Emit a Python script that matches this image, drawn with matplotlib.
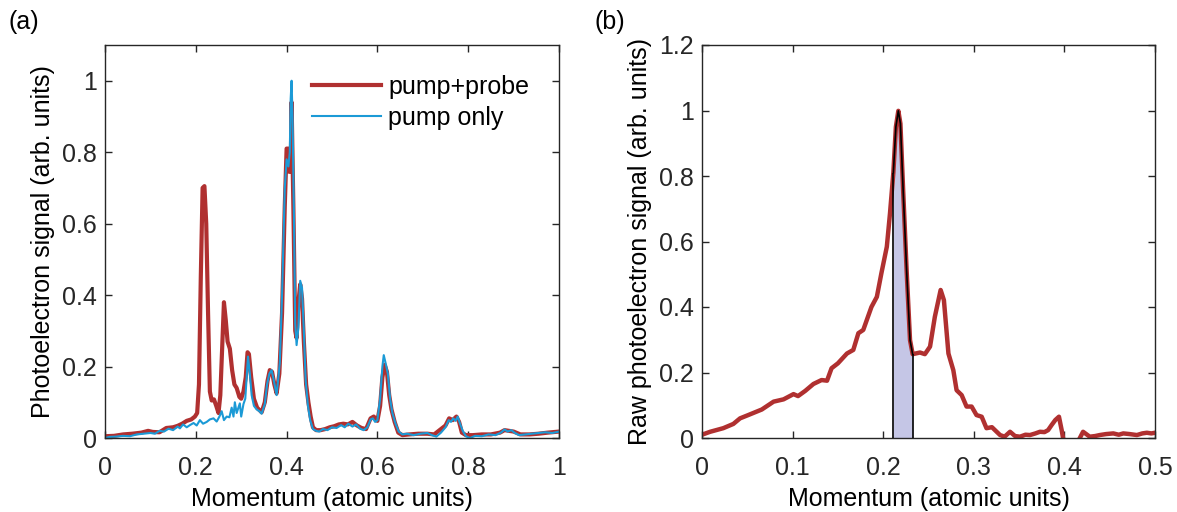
import numpy as np
import matplotlib
matplotlib.use("Agg")
import matplotlib.pyplot as plt
from matplotlib.ticker import FuncFormatter

# ---------------- data: panel (a) ----------------
pp_x = [0.000, 0.020, 0.040, 0.060, 0.080, 0.095, 0.105, 0.120, 0.135, 0.150,
        0.160, 0.170, 0.180, 0.190, 0.198, 0.203, 0.207, 0.211, 0.215, 0.219,
        0.223, 0.227, 0.231, 0.235, 0.240, 0.245, 0.250, 0.254, 0.258, 0.262,
        0.266, 0.270, 0.275, 0.280, 0.285, 0.290, 0.296, 0.300, 0.305, 0.310,
        0.314, 0.317, 0.322, 0.328, 0.335, 0.345, 0.352, 0.358, 0.363, 0.368,
        0.373, 0.378, 0.384, 0.390, 0.396, 0.400, 0.404, 0.406, 0.409, 0.411,
        0.415, 0.419, 0.422, 0.426, 0.430, 0.434, 0.438, 0.443, 0.448, 0.453,
        0.458, 0.465, 0.475, 0.485, 0.495, 0.505, 0.515, 0.525, 0.535, 0.545,
        0.555, 0.565, 0.575, 0.585, 0.592, 0.600, 0.606, 0.611, 0.616, 0.621,
        0.626, 0.631, 0.638, 0.646, 0.655, 0.670, 0.690, 0.710, 0.725, 0.740,
        0.750, 0.758, 0.766, 0.774, 0.780, 0.786, 0.795, 0.810, 0.830, 0.850,
        0.870, 0.880, 0.890, 0.900, 0.915, 0.935, 0.955, 0.975, 1.000]
pp_y = [0.005, 0.006, 0.010, 0.012, 0.015, 0.020, 0.017, 0.016, 0.028, 0.030,
        0.034, 0.040, 0.048, 0.052, 0.060, 0.070, 0.150, 0.450, 0.700, 0.705,
        0.600, 0.350, 0.130, 0.105, 0.108, 0.090, 0.070, 0.120, 0.250, 0.380,
        0.330, 0.270, 0.250, 0.190, 0.150, 0.140, 0.115, 0.110, 0.130, 0.170,
        0.240, 0.235, 0.170, 0.110, 0.085, 0.072, 0.100, 0.160, 0.190, 0.185,
        0.150, 0.125, 0.180, 0.350, 0.650, 0.810, 0.810, 0.745, 0.745, 0.940,
        0.640, 0.300, 0.280, 0.380, 0.430, 0.390, 0.270, 0.150, 0.100, 0.060,
        0.030, 0.022, 0.022, 0.025, 0.030, 0.033, 0.038, 0.040, 0.038, 0.045,
        0.035, 0.028, 0.025, 0.055, 0.060, 0.048, 0.090, 0.170, 0.205, 0.185,
        0.120, 0.080, 0.045, 0.015, 0.008, 0.010, 0.012, 0.012, 0.010, 0.025,
        0.035, 0.055, 0.050, 0.060, 0.045, 0.015, 0.008, 0.008, 0.010, 0.010,
        0.015, 0.022, 0.020, 0.018, 0.010, 0.010, 0.012, 0.015, 0.018]

po_x = [0.000, 0.010, 0.025, 0.040, 0.055, 0.070, 0.085, 0.100, 0.110, 0.120,
        0.130, 0.140, 0.150, 0.160, 0.165, 0.172, 0.180, 0.187, 0.195, 0.202,
        0.209, 0.216, 0.224, 0.231, 0.239, 0.246, 0.252, 0.257, 0.262, 0.268,
        0.274, 0.279, 0.283, 0.286, 0.290, 0.297, 0.300, 0.305, 0.309, 0.312,
        0.315, 0.319, 0.323, 0.328, 0.334, 0.340, 0.345, 0.352, 0.357, 0.362,
        0.367, 0.372, 0.378, 0.385, 0.390, 0.396, 0.400, 0.404, 0.407, 0.409,
        0.411, 0.413, 0.416, 0.419, 0.422, 0.426, 0.430, 0.434, 0.438, 0.442,
        0.447, 0.452, 0.458, 0.465, 0.472, 0.480, 0.490, 0.500, 0.510, 0.520,
        0.528, 0.536, 0.545, 0.553, 0.562, 0.570, 0.578, 0.585, 0.590, 0.595,
        0.600, 0.606, 0.611, 0.614, 0.618, 0.623, 0.628, 0.633, 0.640, 0.647,
        0.655, 0.665, 0.680, 0.695, 0.710, 0.720, 0.730, 0.740, 0.750, 0.757,
        0.762, 0.767, 0.772, 0.777, 0.782, 0.788, 0.795, 0.804, 0.815, 0.830,
        0.845, 0.860, 0.872, 0.880, 0.887, 0.895, 0.903, 0.912, 0.925, 0.940,
        0.955, 0.970, 0.985, 1.000]
po_y = [0.000, 0.003, 0.004, 0.006, 0.005, 0.010, 0.012, 0.014, 0.012, 0.020,
        0.018, 0.026, 0.022, 0.032, 0.027, 0.038, 0.030, 0.036, 0.042, 0.035,
        0.050, 0.040, 0.045, 0.052, 0.055, 0.046, 0.060, 0.075, 0.050, 0.060,
        0.058, 0.085, 0.060, 0.100, 0.070, 0.097, 0.060, 0.095, 0.110, 0.170,
        0.228, 0.180, 0.120, 0.090, 0.080, 0.075, 0.068, 0.095, 0.150, 0.180,
        0.190, 0.160, 0.120, 0.210, 0.400, 0.700, 0.780, 0.760, 0.800, 0.950,
        1.000, 0.900, 0.640, 0.320, 0.260, 0.310, 0.440, 0.420, 0.300, 0.160,
        0.090, 0.050, 0.025, 0.020, 0.018, 0.025, 0.022, 0.030, 0.028, 0.036,
        0.030, 0.040, 0.032, 0.038, 0.026, 0.022, 0.030, 0.052, 0.055, 0.045,
        0.050, 0.110, 0.200, 0.232, 0.210, 0.180, 0.110, 0.070, 0.040, 0.018,
        0.010, 0.012, 0.008, 0.012, 0.014, 0.008, 0.004, 0.015, 0.030, 0.050,
        0.045, 0.055, 0.048, 0.060, 0.040, 0.020, 0.005, 0.000, 0.006, 0.005,
        0.010, 0.008, 0.015, 0.024, 0.018, 0.022, 0.014, 0.008, 0.010, 0.012,
        0.014, 0.016, 0.014, 0.018]

# ---------------- data: panel (b) ----------------
raw_x = [0.000, 0.009, 0.0235, 0.0346, 0.042, 0.051, 0.066, 0.079, 0.090, 0.101,
         0.106, 0.114, 0.123, 0.132, 0.138, 0.143, 0.150, 0.160, 0.167, 0.1726,
         0.178, 0.187, 0.193, 0.198, 0.204, 0.2075, 0.2112, 0.214, 0.2167, 0.219,
         0.222, 0.226, 0.2296, 0.2325, 0.2406, 0.246, 0.2517, 0.257, 0.2634, 0.267,
         0.272, 0.2774, 0.281, 0.2866, 0.292, 0.2976, 0.303, 0.3087, 0.314, 0.320,
         0.329, 0.334, 0.340, 0.3455, 0.351, 0.357, 0.362, 0.368, 0.373, 0.378,
         0.382, 0.386, 0.390, 0.394, 0.397, 0.3995, 0.403, 0.412, 0.4152, 0.4206,
         0.428, 0.434, 0.439, 0.446, 0.454, 0.460, 0.465, 0.472, 0.480, 0.486,
         0.491, 0.496, 0.500]
raw_y = [0.010, 0.019, 0.030, 0.043, 0.060, 0.070, 0.087, 0.111, 0.118, 0.134,
         0.128, 0.144, 0.165, 0.177, 0.175, 0.213, 0.228, 0.258, 0.269, 0.320,
         0.330, 0.400, 0.431, 0.503, 0.584, 0.686, 0.810, 0.950, 0.999, 0.960,
         0.757, 0.503, 0.299, 0.256, 0.261, 0.256, 0.279, 0.370, 0.452, 0.421,
         0.258, 0.207, 0.146, 0.131, 0.096, 0.096, 0.070, 0.065, 0.030, 0.033,
         0.009, 0.004, 0.019, 0.006, 0.004, 0.010, 0.009, 0.014, 0.019, 0.018,
         0.024, 0.040, 0.055, 0.065, 0.024, -0.016, -0.060, -0.060, -0.010, 0.019,
         0.004, 0.006, 0.009, 0.012, 0.014, 0.010, 0.014, 0.012, 0.009, 0.014,
         0.016, 0.014, 0.016]
shade_lo, shade_hi = 0.2112, 0.2325

# ---------------- styling ----------------
plt.rcParams['font.family'] = ['Liberation Sans', 'DejaVu Sans']
FS = 18
DARK = '#262626'
RED = '#b03030'
BLUE = '#1b9ad6'
FILL = '#c5c6e6'

fig = plt.figure(figsize=(11.77, 5.12), dpi=100)
axA = fig.add_axes([105/1177, 74/512, 454/1177, 393/512])
axB = fig.add_axes([702/1177, 74/512, 453/1177, 393/512])

fmt = FuncFormatter(lambda v, p: ('%g' % round(v, 3)))

def style(ax):
    for s in ax.spines.values():
        s.set_color(DARK)
        s.set_linewidth(1.0)
    ax.tick_params(direction='in', length=5, width=1.0, color=DARK,
                   labelsize=FS, labelcolor=DARK, top=True, right=True, pad=6)
    ax.tick_params(axis='x', pad=13)
    ax.xaxis.set_major_formatter(fmt)
    ax.yaxis.set_major_formatter(fmt)

# panel (a)
axA.plot(pp_x, pp_y, color=RED, lw=3.0, label='pump+probe', solid_joinstyle='round')
axA.plot(po_x, po_y, color=BLUE, lw=1.5, label='pump only')
axA.set_xlim(0, 1)
axA.set_ylim(0, 1.1)
axA.set_xticks([0, 0.2, 0.4, 0.6, 0.8, 1])
axA.set_yticks([0, 0.2, 0.4, 0.6, 0.8, 1])
style(axA)
axA.set_xlabel('Momentum (atomic units)', fontsize=FS, labelpad=5)
axA.set_ylabel('Photoelectron signal (arb. units)', fontsize=FS, labelpad=5)
leg = axA.legend(loc='upper left', bbox_to_anchor=(0.434, 0.95), frameon=False,
                 fontsize=FS, handlelength=2.75, handletextpad=0.3,
                 labelspacing=0.3, borderaxespad=0)
fig.text(8/1177, 1 - 22/512, '(a)', fontsize=FS, va='center', ha='left')

# panel (b)
rx = np.asarray(raw_x)
ry = np.asarray(raw_y)
m = (rx >= shade_lo - 1e-9) & (rx <= shade_hi + 1e-9)
axB.fill_between(rx[m], 0, ry[m], color=FILL, lw=0, zorder=1)
axB.plot(rx, ry, color=RED, lw=3.2, zorder=2, solid_joinstyle='round')
axB.plot(rx[m], ry[m], color='black', lw=1.2, zorder=3)
axB.vlines([rx[m][0], rx[m][-1]], 0, [ry[m][0], ry[m][-1]], color='black', lw=1.2, zorder=3)
axB.set_xlim(0, 0.5)
axB.set_ylim(0, 1.2)
axB.set_xticks([0, 0.1, 0.2, 0.3, 0.4, 0.5])
axB.set_yticks([0, 0.2, 0.4, 0.6, 0.8, 1, 1.2])
style(axB)
axB.set_xlabel('Momentum (atomic units)', fontsize=FS, labelpad=5)
axB.set_ylabel('Raw photoelectron signal (arb. units)', fontsize=FS, labelpad=5)
fig.text(595/1177, 1 - 22/512, '(b)', fontsize=FS, va='center', ha='left')

fig.savefig('out.png', dpi=100)
